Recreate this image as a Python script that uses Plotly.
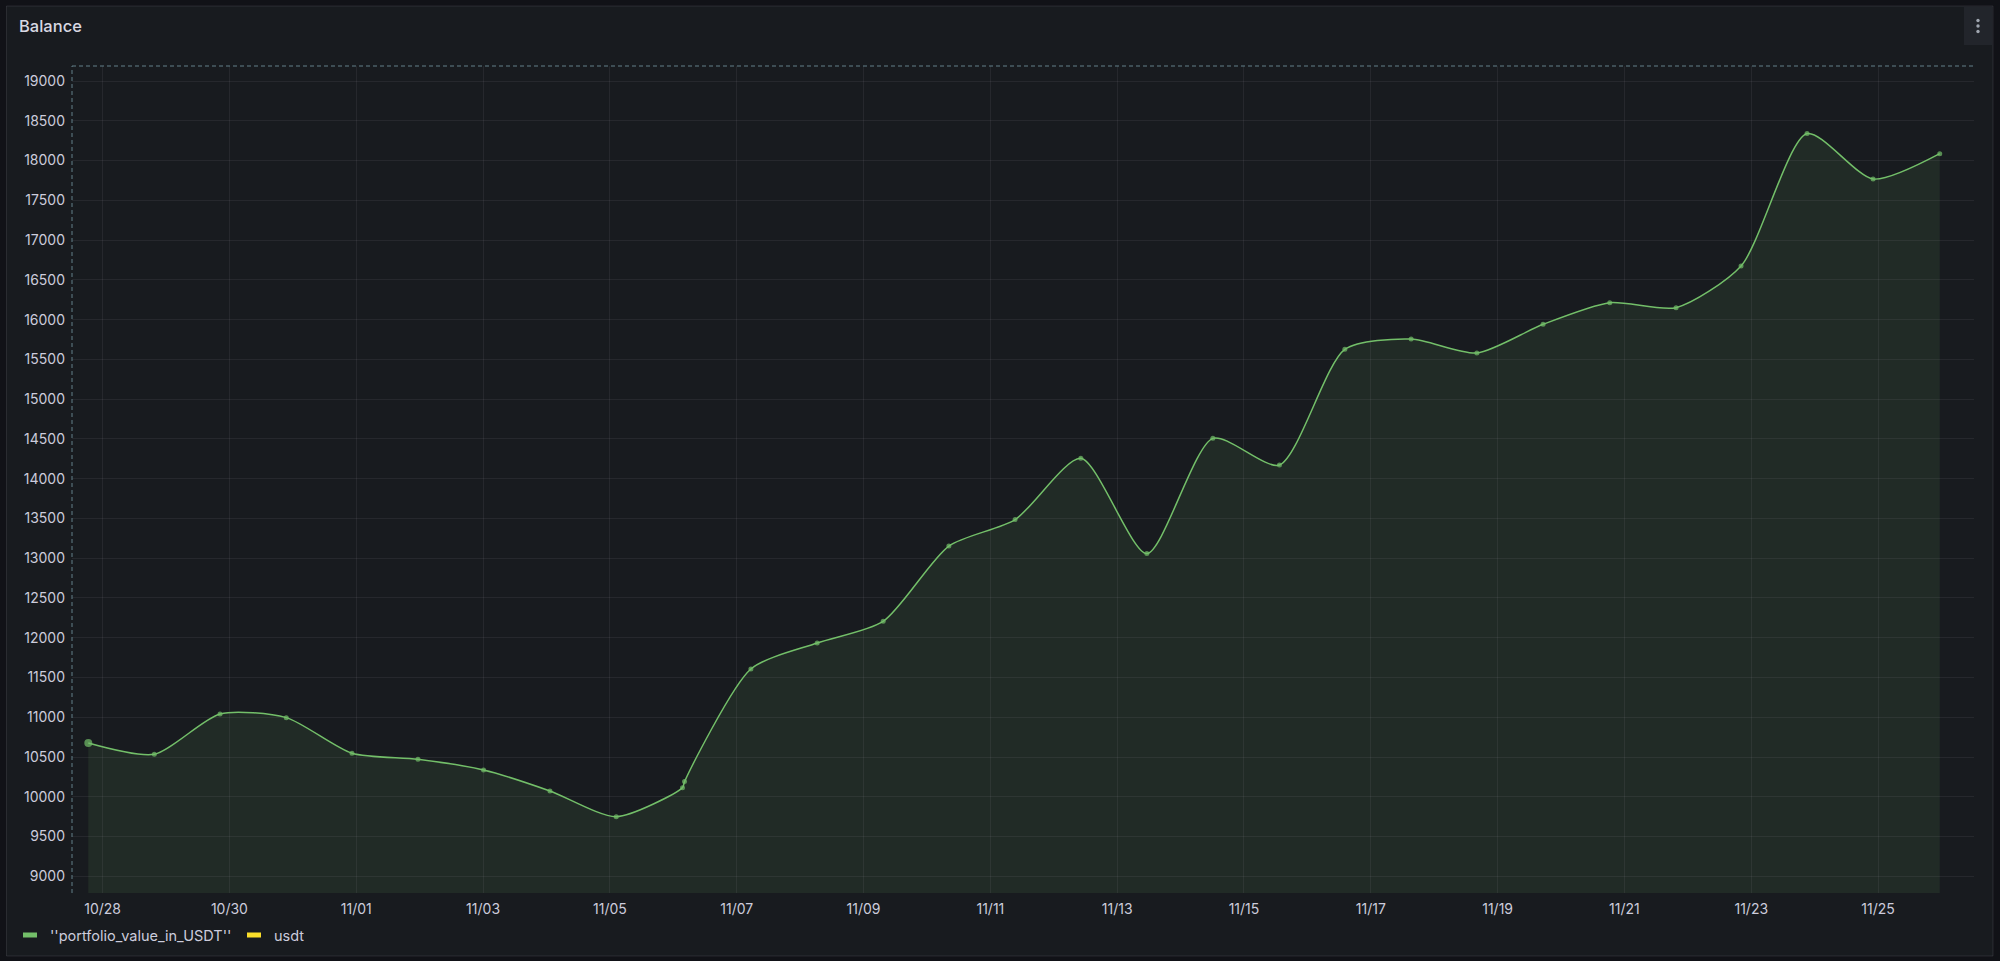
import plotly.graph_objects as go

# ---- data ----
timestamps = ["2023-10-27 18:35", "2023-10-28 19:34", "2023-10-29 20:26", "2023-10-30 21:31",
              "2023-10-31 22:23", "2023-11-01 23:21", "2023-11-03 00:11", "2023-11-04 01:19",
              "2023-11-05 02:24", "2023-11-06 03:29", "2023-11-06 04:15", "2023-11-07 05:22",
              "2023-11-08 06:27", "2023-11-09 07:26", "2023-11-10 08:18", "2023-11-11 09:23",
              "2023-11-12 10:15", "2023-11-13 11:14", "2023-11-14 12:13", "2023-11-15 13:25",
              "2023-11-16 14:10", "2023-11-17 15:16", "2023-11-18 16:08", "2023-11-19 17:12",
              "2023-11-20 18:26", "2023-11-21 19:32", "2023-11-22 20:08", "2023-11-23 21:07",
              "2023-11-24 22:06", "2023-11-25 23:20"]
portfolio_value_in_usdt = [10676, 10534, 11041, 10995, 10547, 10471, 10337, 10073, 9750, 10115,
                           10191, 11607, 11934, 12206, 13153, 13485, 14256, 13058, 14507, 14172,
                           15626, 15756, 15580, 15941, 16213, 16150, 16674, 18339, 17768, 18087]
usdt_times = []
usdt_values = []

tick_dates = ["2023-10-28", "2023-10-30", "2023-11-01", "2023-11-03", "2023-11-05", "2023-11-07",
              "2023-11-09", "2023-11-11", "2023-11-13", "2023-11-15", "2023-11-17", "2023-11-19",
              "2023-11-21", "2023-11-23", "2023-11-25"]
tick_labels = ["10/28", "10/30", "11/01", "11/03", "11/05", "11/07", "11/09", "11/11",
               "11/13", "11/15", "11/17", "11/19", "11/21", "11/23", "11/25"]
x_range = ["2023-10-27 12:25", "2023-11-26 12:18"]
y_range = [8790, 19189]

title = "Balance"
series_names = ["''portfolio_value_in_USDT''", "usdt"]
series_colors = ["#73bf69", "#fade2a"]

# ---- layout geometry (pixels) ----
W, H = 2000, 961
L, R, T, B = 72, 1974, 66, 893


def px(x):
    return (x - L) / (R - L)


def py(y):
    return (B - y) / (B - T)


TEXT = "#ccccdc"
FONT = "Inter"

fig = go.Figure()

n = len(portfolio_value_in_usdt)
fig.add_trace(go.Scatter(
    x=timestamps, y=portfolio_value_in_usdt, name=series_names[0],
    mode="lines+markers",
    line=dict(color=series_colors[0], width=1.5, shape="spline", smoothing=0.7),
    marker=dict(color=series_colors[0], size=[8] + [5] * (n - 1), line=dict(width=0)),
    fill="tozeroy", fillcolor="rgba(115,191,105,0.10)",
    showlegend=False, hoverinfo="x+y",
))
fig.add_trace(go.Scatter(
    x=usdt_times, y=usdt_values, name=series_names[1], mode="lines",
    line=dict(color=series_colors[1], width=1.5), showlegend=False,
))

shapes = []
# panel background
shapes.append(dict(type="rect", xref="paper", yref="paper", layer="below",
                   x0=px(6.5), x1=px(1993), y0=py(956), y1=py(6),
                   fillcolor="#181b1f", line=dict(color="rgba(204,204,220,0.12)", width=1)))
# menu button
shapes.append(dict(type="rect", xref="paper", yref="paper", layer="below",
                   x0=px(1964), x1=px(1992.5), y0=py(45), y1=py(6.5),
                   fillcolor="#22252b", line=dict(width=0)))
for dy in (20.5, 26, 31.5):
    shapes.append(dict(type="circle", xref="paper", yref="paper",
                       x0=px(1976.3), x1=px(1979.7), y0=py(dy + 1.7), y1=py(dy - 1.7),
                       fillcolor="#a0a6b0", line=dict(width=0)))
# dashed top and left borders of the plot
shapes.append(dict(type="line", xref="paper", yref="paper", x0=0, x1=1, y0=1, y1=1,
                   line=dict(color="#63808a", width=1, dash="4px,3px")))
shapes.append(dict(type="line", xref="paper", yref="paper", x0=0, x1=0, y0=0, y1=1,
                   line=dict(color="#63808a", width=1, dash="4px,3px")))
# legend swatches
for (x0, x1), c in zip([(23, 37), (247, 261)], series_colors):
    shapes.append(dict(type="line", xref="paper", yref="paper",
                       x0=px(x0), x1=px(x1), y0=py(935), y1=py(935),
                       line=dict(color=c, width=5)))

annotations = [
    dict(text=title, xref="paper", yref="paper", x=px(17), y=py(26), xanchor="left",
         yanchor="middle", showarrow=False,
         font=dict(family=FONT, size=16.5, color="#d8d9e3", weight=500)),
    dict(text=series_names[0], xref="paper", yref="paper", x=px(48), y=py(935),
         xanchor="left", yanchor="middle", showarrow=False,
         font=dict(family=FONT, size=14.5, color=TEXT)),
    dict(text=series_names[1], xref="paper", yref="paper", x=px(272), y=py(935),
         xanchor="left", yanchor="middle", showarrow=False,
         font=dict(family=FONT, size=14.5, color=TEXT)),
]

fig.update_layout(
    width=W, height=H,
    margin=dict(l=L, r=W - R, t=T, b=H - B, pad=0),
    paper_bgcolor="#111217", plot_bgcolor="rgba(0,0,0,0)",
    font=dict(family=FONT, size=14, color=TEXT),
    shapes=shapes, annotations=annotations, showlegend=False,
    xaxis=dict(type="date", range=x_range, tickvals=tick_dates, ticktext=tick_labels,
               showgrid=True, gridcolor="rgba(204,204,220,0.08)", gridwidth=1,
               zeroline=False, showline=False, ticks="", ticklabelstandoff=6,
               tickfont=dict(family=FONT, size=14, color=TEXT)),
    yaxis=dict(range=y_range, dtick=500, tick0=9000, tickformat="d",
               showgrid=True, gridcolor="rgba(204,204,220,0.08)", gridwidth=1,
               zeroline=False, showline=False, ticks="", ticklabelstandoff=6,
               tickfont=dict(family=FONT, size=14, color=TEXT)),
)

fig.write_html("out.html")
